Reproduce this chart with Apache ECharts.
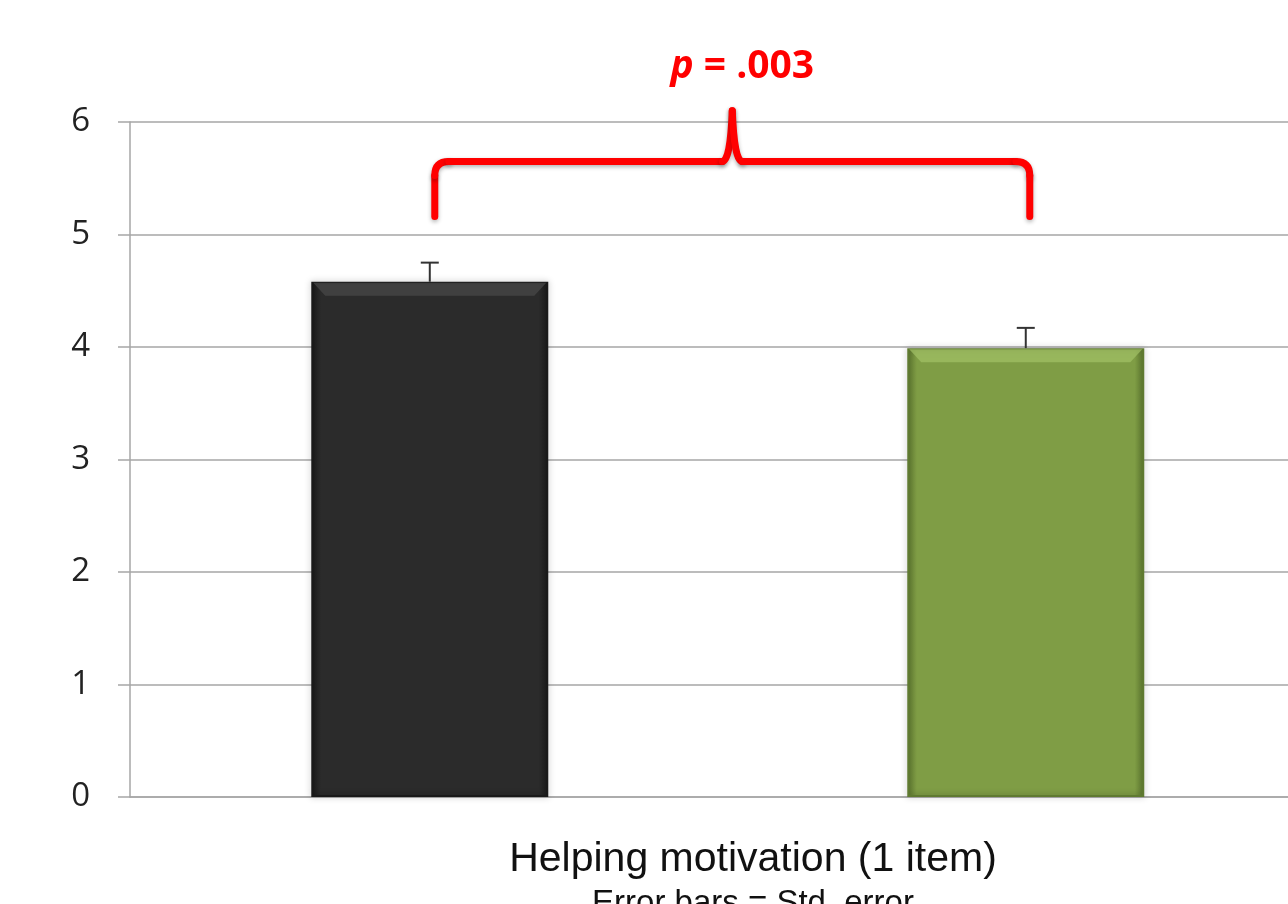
<!DOCTYPE html>
<html><head><meta charset="utf-8">
<script src="https://cdn.jsdelivr.net/npm/echarts@6/dist/echarts.min.js"></script>
<style>html,body{margin:0;padding:0;background:#fff}#c{width:1288px;height:904px}</style>
</head><body><div id="c"></div>
<script>
const categories = ['Group A', 'Group B'];
const means = [4.58, 3.99];
const stdErrors = [0.17, 0.18];
const yTicks = [0, 1, 2, 3, 4, 5, 6];
const xTitle = 'Helping motivation (1 item)';
const xSubtitle = 'Error bars = Std. error';
const pLabel = '.003';
const barColors = [
  {main: '#2b2b2b', light: '#4a4a4a', dark: '#1a1a1a'},
  {main: '#7f9d45', light: '#a3c266', dark: '#5f7a30'}
];

const chart = echarts.init(document.getElementById('c'));
const option = {
  animation: false,
  grid: {left: 130, right: 0, top: 122, bottom: 107, containLabel: false},
  xAxis: {
    type: 'value', min: -0.503, max: 1.44,
    axisLine: {show: true, onZero: false, lineStyle: {color: '#a6a6a6', width: 1.5}},
    axisTick: {show: false}, axisLabel: {show: false}, splitLine: {show: false}
  },
  yAxis: {
    type: 'value', min: yTicks[0], max: yTicks[yTicks.length - 1], interval: 1,
    axisLine: {show: true, onZero: false, lineStyle: {color: '#a6a6a6', width: 1.5}},
    axisTick: {show: true, inside: false, length: 12, lineStyle: {color: '#a6a6a6', width: 1.5}},
    axisLabel: {margin: 40, color: '#222', fontSize: 33, fontFamily: 'Open Sans'},
    splitLine: {show: true, lineStyle: {color: '#a6a6a6', width: 1.5}}
  },
  series: [
    {
      type: 'bar', barWidth: 237, z: 2,
      data: means.map((v, i) => ({
        name: categories[i],
        value: [i, v],
        itemStyle: {
          color: new echarts.graphic.LinearGradient(0, 0, 1, 0, [
            {offset: 0, color: barColors[i].dark},
            {offset: 0.04, color: barColors[i].main},
            {offset: 0.96, color: barColors[i].main},
            {offset: 1, color: barColors[i].dark}
          ]),
          borderColor: barColors[i].dark, borderWidth: 2,
          shadowColor: 'rgba(0,0,0,0.35)', shadowBlur: 6
        }
      }))
    },
    {
      type: 'custom', z: 3,
      data: means.map((v, i) => [i, v, stdErrors[i]]),
      renderItem: function (params, api) {
        const x = api.value(0), m = api.value(1), se = api.value(2);
        const top = api.coord([x, m + se]);
        const base = api.coord([x, m]);
        const bw = 237;
        const L = base[0] - bw / 2, R = base[0] + bw / 2;
        const i = params.dataIndex;
        const bevel = 14;
        return {
          type: 'group', children: [
            {type: 'polygon', shape: {points: [[L + 2, base[1] + 1], [R - 2, base[1] + 1], [R - bevel, base[1] + bevel], [L + bevel, base[1] + bevel]]},
             style: {fill: barColors[i].light, opacity: 0.7}},
            {type: 'line', shape: {x1: base[0], y1: base[1], x2: top[0], y2: top[1]}, style: {stroke: '#333', lineWidth: 2}},
            {type: 'line', shape: {x1: top[0] - 9, y1: top[1], x2: top[0] + 9, y2: top[1]}, style: {stroke: '#333', lineWidth: 2}}
          ]
        };
      }
    }
  ]
};
chart.setOption(option);

const p0 = chart.convertToPixel({xAxisIndex: 0, yAxisIndex: 0}, [0, 5.16]);
const p1 = chart.convertToPixel({xAxisIndex: 0, yAxisIndex: 0}, [1, 5.16]);
const yBar = chart.convertToPixel({yAxisIndex: 0}, 5.65);
const yTip = chart.convertToPixel({yAxisIndex: 0}, 6.1);
const xl = p0[0] + 5, xr = p1[0] + 4, yb = p0[1];
const xm = (xl + xr) / 2;
const r = 14;
const braceStyle = {fill: null, stroke: '#ff0000', lineWidth: 7, lineCap: 'round', lineJoin: 'round', shadowColor: 'rgba(0,0,0,0.3)', shadowBlur: 4, shadowOffsetY: 2};
const segs = [
  {type: 'line', shape: {x1: xl, y1: yb, x2: xl, y2: yBar + r}},
  {type: 'bezierCurve', shape: {x1: xl, y1: yBar + r, cpx1: xl, cpy1: yBar, x2: xl + r, y2: yBar}},
  {type: 'line', shape: {x1: xl + r, y1: yBar, x2: xm - 10, y2: yBar}},
  {type: 'bezierCurve', shape: {x1: xm - 10, y1: yBar, cpx1: xm - 2, cpy1: yBar, x2: xm, y2: yTip}},
  {type: 'bezierCurve', shape: {x1: xm, y1: yTip, cpx1: xm + 2, cpy1: yBar, x2: xm + 10, y2: yBar}},
  {type: 'line', shape: {x1: xm + 10, y1: yBar, x2: xr - r, y2: yBar}},
  {type: 'bezierCurve', shape: {x1: xr - r, y1: yBar, cpx1: xr, cpy1: yBar, x2: xr, y2: yBar + r}},
  {type: 'line', shape: {x1: xr, y1: yBar + r, x2: xr, y2: yb}}
].map(s => Object.assign(s, {style: braceStyle, z: 10}));

chart.setOption({
  graphic: [
    {type: 'group', z: 10, children: segs},
    {type: 'text', z: 10, x: xm + 10, y: 67,
     style: {text: '{p|p}{n| = ' + pLabel + '}', align: 'center', verticalAlign: 'middle', rich: {
       p: {fontFamily: 'Open Sans', fontWeight: 'bold', fontStyle: 'italic', fontSize: 39, fill: '#ff0000', color: '#ff0000'},
       n: {fontFamily: 'Open Sans', fontWeight: 'bold', fontSize: 39, fill: '#ff0000', color: '#ff0000'}
     }}},
    {type: 'text', z: 10, x: 753, y: 860,
     style: {text: xTitle, font: '41px "Liberation Sans"', fill: '#111', textAlign: 'center', textVerticalAlign: 'middle'}},
    {type: 'text', z: 10, x: 753, y: 887,
     style: {text: xSubtitle, font: '33px "Liberation Sans"', fill: '#111', textAlign: 'center', textVerticalAlign: 'top'}}
  ]
});
</script></body></html>
